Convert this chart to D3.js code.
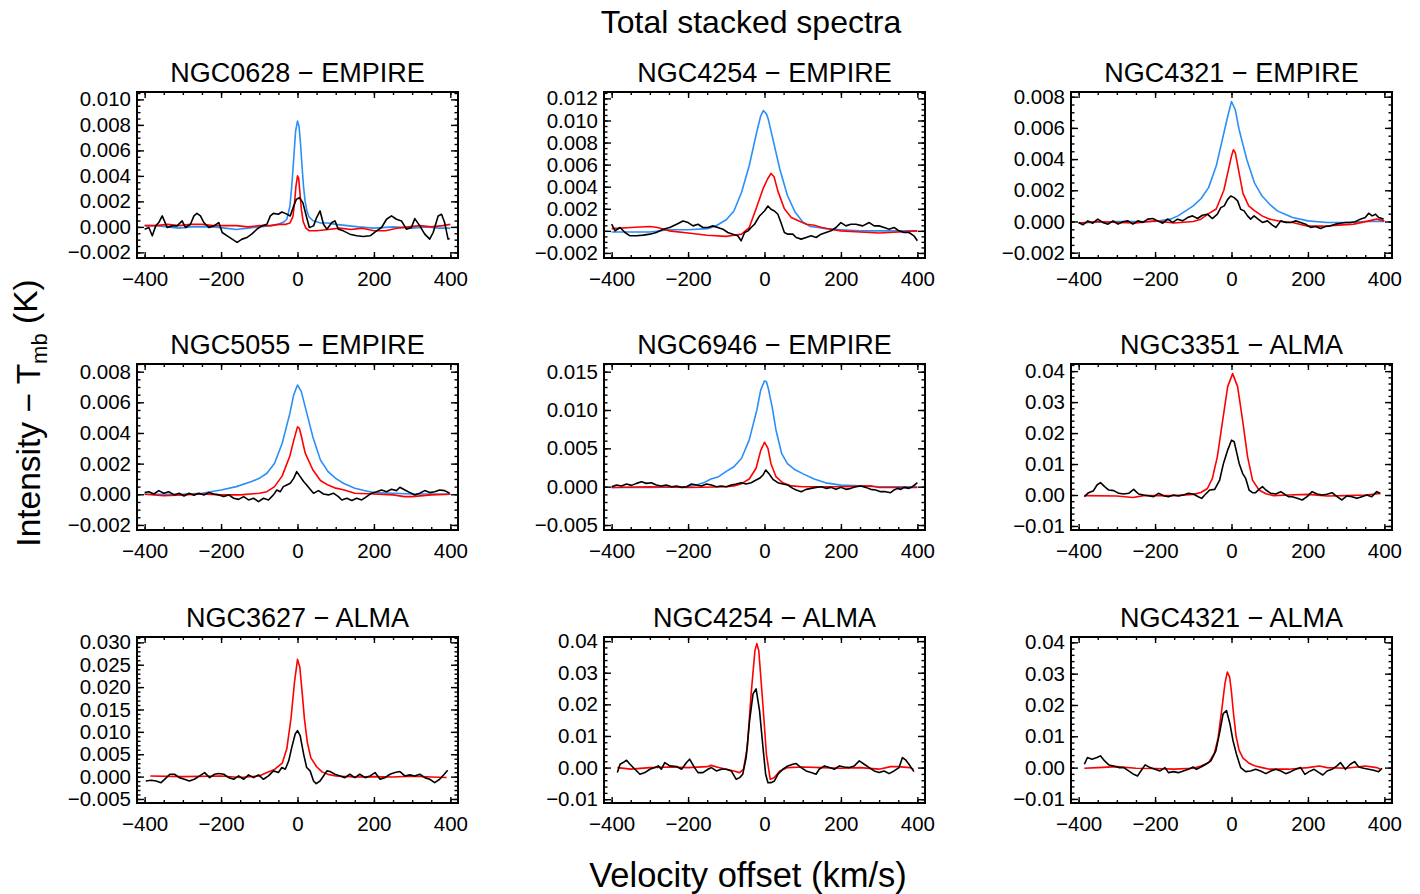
<!DOCTYPE html>
<html>
<head>
<meta charset="utf-8">
<script src="https://cdn.jsdelivr.net/npm/d3@7"></script>
<style>
  body { margin: 0; background: #fff; }
  svg text { font-family: "Liberation Sans", Arial, Helvetica, sans-serif; fill: #000; }
</style>
</head>
<body>
<div id="chart"></div>
<script>
// panel titles, in reading order
const panelTitles = [
    "NGC0628 − EMPIRE", "NGC4254 − EMPIRE", "NGC4321 − EMPIRE",
    "NGC5055 − EMPIRE", "NGC6946 − EMPIRE", "NGC3351 − ALMA",
    "NGC3627 − ALMA", "NGC4254 − ALMA", "NGC4321 − ALMA"
];

// x axis (velocity offset, km/s)
const velRange = [-420, 420];
const velTicks = [-400, -200, 0, 200, 400];

// y axis ranges and tick labels per panel
const yRanges = [
    [-0.00244, 0.01058], [-0.00246, 0.01258], [-0.00234, 0.0083],
    [-0.00233, 0.0085], [-0.00565, 0.016], [-0.0113, 0.0423],
    [-0.0059, 0.0312], [-0.0112, 0.0413], [-0.0113, 0.0417]
];
const yTicks = [
    [-0.002, 0, 0.002, 0.004, 0.006, 0.008, 0.010],
    [-0.002, 0, 0.002, 0.004, 0.006, 0.008, 0.010, 0.012],
    [-0.002, 0, 0.002, 0.004, 0.006, 0.008],
    [-0.002, 0, 0.002, 0.004, 0.006, 0.008],
    [-0.005, 0, 0.005, 0.010, 0.015],
    [-0.01, 0, 0.01, 0.02, 0.03, 0.04],
    [-0.005, 0, 0.005, 0.010, 0.015, 0.020, 0.025, 0.030],
    [-0.01, 0, 0.01, 0.02, 0.03, 0.04],
    [-0.01, 0, 0.01, 0.02, 0.03, 0.04]
];
const yMinorSteps = [0.0005, 0.0005, 0.0005, 0.0005, 0.001, 0.002, 0.001, 0.002, 0.002];
const yFormats = [".3f", ".3f", ".3f", ".3f", ".3f", ".2f", ".3f", ".2f", ".2f"];

// spectra: [velocity, intensity (K)]
const ngc0628EmpireBlack = [[-400,-0.00018],[-389,-0.00005],[-380,-0.0007],[-371,0.00008],[-363,0.00034],[-354,0.00086],[-341,-0.00005],[-328,0.00008],[-315,0.00008],[-302,0.00047],[-293,-0.00005],[-280,0.00021],[-271,0.00086],[-263,0.00106],[-254,0.00086],[-245,0.00034],[-232,-0.00005],[-219,0.00008],[-206,0.00034],[-197,-0.00044],[-184,-0.0007],[-171,-0.00096],[-158,-0.00122],[-145,-0.00096],[-132,-0.00083],[-120,-0.00057],[-106,-0.00018],[-93,0.00008],[-80,0.00021],[-71,0.00086],[-63,0.00106],[-50,0.00099],[-41,0.00117],[-32,0.00106],[-19,0.00086],[-10,0.00164],[-3,0.00216],[5,0.00229],[14,0.0019],[23,0.00086],[31,-0.00005],[42,0.00008],[50,0.00073],[59,0.00125],[68,0.00021],[77,-0.00018],[90,0.00034],[98,0.00047],[107,-0.00018],[120,-0.00031],[137,-0.00057],[155,-0.0007],[172,-0.00075],[190,-0.0007],[207,-0.00031],[220,-0.00005],[233,0.0006],[246,0.00086],[259,0.0006],[272,0.00047],[285,-0.00018],[298,-0.00005],[307,0.00065],[320,0.00008],[333,-0.00057],[346,-0.00096],[355,-0.00044],[368,0.00086],[377,0.00099],[385,0.00034],[394,-0.00096],[398,-0.00091]];
const ngc0628EmpireRed = [[-400,0.0001],[-370,0.0001],[-340,0.0002],[-310,0.0001],[-280,0.0002],[-250,0.0002],[-220,0.0001],[-190,0.0001],[-160,0.0001],[-130,0],[-100,0.0001],[-70,0.0001],[-50,0.0002],[-30,0.0002],[-20,0.0003],[-12,0.0008],[-8,0.0018],[-4,0.0032],[0,0.004],[3,0.0038],[6,0.0028],[10,0.0014],[15,0.0004],[22,-0.0001],[30,-0.0003],[50,-0.0003],[80,-0.0002],[110,-0.0001],[140,-0.0002],[170,-0.0001],[200,-0.0003],[230,-0.0003],[260,-0.0001],[290,0],[320,0.0001],[350,0],[380,0.0001],[400,0.0002]];
const ngc0628EmpireBlue = [[-400,0.0001],[-370,0.0001],[-340,0],[-310,-0.0001],[-280,0],[-250,0],[-220,0],[-190,-0.0001],[-160,-0.0002],[-130,-0.0001],[-100,0],[-70,0.0001],[-50,0.0002],[-35,0.0004],[-28,0.0006],[-20,0.0016],[-15,0.0032],[-10,0.0053],[-5,0.0075],[0,0.0083],[4,0.0079],[8,0.0065],[12,0.0047],[16,0.0031],[20,0.002],[25,0.0012],[30,0.0008],[40,0.0005],[60,0.0003],[80,0.0003],[100,0.0002],[130,0.0001],[160,0],[200,-0.0001],[250,0],[300,-0.0001],[340,0],[370,-0.0001],[400,-0.0001]];

const ngc4254EmpireBlack = [[-400,0.0006],[-391,0],[-378,0.0003],[-365,-0.00015],[-352,-0.00045],[-335,-0.00045],[-317,-0.00039],[-300,-0.0003],[-283,-0.00015],[-265,0.00015],[-248,0.0003],[-230,0.0006],[-213,0.0009],[-200,0.00075],[-187,0.00045],[-174,0.0006],[-161,0.0003],[-148,0.0003],[-135,0.00045],[-122,0.0003],[-109,0.00015],[-96,-0.00015],[-83,-0.0003],[-70,-0.00045],[-61,-0.0009],[-52,-0.00015],[-43,0],[-35,0.0003],[-26,0.0006],[-13,0.00135],[0,0.0018],[9,0.00225],[17,0.00195],[26,0.0018],[35,0.0015],[43,0.00075],[52,-0.00015],[61,-0.0003],[74,-0.0003],[83,-0.0006],[96,-0.00075],[109,-0.0006],[122,-0.00045],[135,-0.0006],[148,-0.0003],[161,-0.00015],[174,0],[187,0.0003],[200,0.00075],[213,0.00045],[226,0.0006],[239,0.0006],[257,0.00045],[274,0.00075],[287,0.00045],[300,0.00045],[313,0.0003],[326,0.00015],[339,0.0003],[352,0],[365,-0.00015],[378,-0.00015],[391,-0.00045],[400,-0.0009]];
const ngc4254EmpireRed = [[-400,0.0002],[-350,0.0003],[-300,0.0004],[-280,0.0003],[-250,0],[-200,-0.0002],[-150,-0.0004],[-100,-0.0005],[-80,-0.0004],[-60,-0.0003],[-40,0.0003],[-22,0.002],[-4,0.0038],[8,0.0047],[17,0.0052],[25,0.0049],[35,0.0036],[52,0.002],[70,0.0012],[90,0.0009],[110,0.0006],[130,0.0005],[150,0.0003],[180,0.0001],[200,0],[250,-0.0001],[300,-0.0002],[350,-0.0001],[400,0]];
const ngc4254EmpireBlue = [[-400,-0.0001],[-350,-0.0001],[-300,-0.0001],[-250,0.0001],[-200,0.0001],[-150,0.0002],[-130,0.0004],[-110,0.0008],[-100,0.001],[-80,0.0018],[-60,0.0035],[-40,0.0059],[-20,0.009],[-10,0.0104],[-3,0.0109],[5,0.0106],[10,0.0101],[20,0.0086],[40,0.0056],[60,0.0032],[80,0.0017],[100,0.0008],[120,0.0004],[140,0.0003],[160,0.0002],[200,0.0001],[250,0],[300,0],[350,0],[400,0]];

const ngc4321EmpireBlack = [[-400,-0.00006],[-389,-0.00021],[-376,0.00004],[-363,-0.00011],[-350,0.00015],[-337,-0.00006],[-323,-0.00017],[-310,0.00004],[-297,-0.00017],[-284,-0.00002],[-271,0.00004],[-258,-0.00017],[-245,0.00004],[-232,-0.00006],[-219,0.00015],[-206,0.00019],[-193,0.00004],[-180,-0.00011],[-167,0.00015],[-154,-0.00006],[-141,0.00015],[-128,0.00004],[-115,0.00025],[-102,0.00036],[-89,0.00019],[-76,0.0004],[-63,0.00047],[-50,0.00019],[-37,0.00047],[-28,0.00089],[-19,0.001],[-10,0.00142],[-2,0.00163],[7,0.00153],[16,0.00132],[24,0.00079],[33,0.00068],[42,0.00036],[50,0.00015],[59,0.00036],[68,0.00019],[81,-0.00006],[94,0.00004],[107,-0.00023],[116,-0.00038],[129,0.00004],[142,-0.00006],[155,-0.00006],[168,0.00004],[181,-0.00006],[194,-0.00017],[207,-0.00038],[220,-0.00032],[233,-0.00045],[246,-0.00032],[259,-0.00028],[272,-0.00017],[285,-0.00011],[298,-0.00006],[311,-0.00006],[324,-0.00002],[337,0.00015],[350,0.00025],[359,0.00053],[368,0.00036],[377,0.00047],[385,0.00025],[394,0.00019],[398,0.00015]];
const ngc4321EmpireRed = [[-400,-0.0001],[-350,0],[-300,-0.00006],[-250,-0.0001],[-200,0.00004],[-150,-0.0001],[-100,0],[-80,0.00015],[-60,0.0005],[-40,0.0008],[-20,0.002],[-10,0.0031],[0,0.0042],[5,0.0046],[10,0.0044],[20,0.0031],[30,0.0018],[45,0.001],[60,0.0007],[80,0.00036],[100,0.00015],[130,0],[160,-0.00006],[200,-0.0003],[240,-0.0003],[280,-0.00023],[320,-0.00017],[360,0.00004],[380,0.00015],[400,0.00004]];
const ngc4321EmpireBlue = [[-400,-0.0001],[-300,0],[-200,0],[-160,0.00015],[-140,0.00036],[-120,0.00068],[-100,0.001],[-80,0.00146],[-60,0.00217],[-40,0.00355],[-20,0.00567],[-10,0.00673],[0,0.00769],[10,0.00716],[20,0.00588],[40,0.00397],[60,0.00248],[80,0.00163],[100,0.0011],[120,0.00068],[140,0.00047],[160,0.00025],[200,0.00004],[250,-0.00006],[300,-0.00006],[350,0],[400,0]];

const ngc5055EmpireBlack = [[-400,0.00011],[-389,0.00017],[-376,0.00002],[-363,0.00024],[-350,0.00007],[-337,0.00017],[-323,-0.00004],[-310,0.00007],[-297,-0.00011],[-284,0.00007],[-271,-0.00007],[-258,0.00007],[-245,-0.00004],[-232,0.00011],[-219,0.00002],[-206,-0.00004],[-193,-0.00015],[-180,-0.00004],[-167,-0.00026],[-154,-0.00033],[-141,-0.00015],[-128,-0.00037],[-115,-0.00026],[-102,-0.00048],[-89,-0.00026],[-76,-0.00037],[-63,-0.00004],[-54,0.00028],[-45,0.00017],[-37,0.0005],[-28,0.00061],[-19,0.00072],[-10,0.00104],[-2,0.00148],[7,0.00115],[16,0.00083],[24,0.00061],[33,0.00033],[42,0.00007],[55,0.00024],[68,0.00002],[81,-0.00004],[94,0.00007],[107,-0.00015],[116,-0.00037],[129,-0.00026],[142,-0.00041],[155,-0.00026],[168,-0.00037],[181,-0.00015],[194,0.00007],[207,0.00017],[220,0.00028],[233,0.00017],[246,0.00033],[259,0.00024],[268,0.00046],[281,0.00028],[294,0.00011],[307,-0.00004],[320,0.00007],[333,0.00024],[346,0.00011],[359,0.00017],[372,0.00028],[385,0.00024],[398,0.00007]];
const ngc5055EmpireRed = [[-400,0],[-350,-0.0001],[-300,-0.00004],[-250,0.00002],[-200,-0.00004],[-150,-0.00004],[-100,0.00007],[-80,0.00017],[-60,0.0005],[-40,0.0012],[-20,0.0025],[-10,0.0035],[0,0.0044],[5,0.0043],[10,0.0038],[20,0.0027],[40,0.0016],[60,0.0009],[80,0.0006],[100,0.0004],[120,0.0003],[150,0.00007],[200,0.00002],[250,-0.00004],[280,-0.00015],[300,-0.00015],[350,-0.00004],[400,0]];
const ngc5055EmpireBlue = [[-400,0],[-300,0],[-250,0.00007],[-200,0.00028],[-160,0.0005],[-120,0.00083],[-100,0.00104],[-80,0.00137],[-60,0.00202],[-40,0.00333],[-20,0.00528],[-10,0.00648],[0,0.00713],[10,0.0067],[20,0.00572],[40,0.00376],[60,0.00224],[80,0.00148],[100,0.00104],[120,0.00072],[150,0.00039],[180,0.00022],[200,0.00011],[250,0.00007],[300,0.00002],[350,0.00002],[400,0]];

const ngc6946EmpireBlack = [[-400,0],[-387,0.00022],[-374,0.00009],[-361,0.00035],[-348,0.00017],[-335,0.00043],[-322,0.00065],[-309,0.00043],[-296,0.00052],[-283,0.00022],[-270,0.00009],[-257,0.00022],[-243,0],[-230,0.00009],[-217,-0.00009],[-204,0],[-191,0.00035],[-178,0.00022],[-165,0.00009],[-152,0.00035],[-139,0.00022],[-126,0],[-113,0.00009],[-100,0],[-87,0.00022],[-74,0.00035],[-61,0.00052],[-48,0.00035],[-35,0.00052],[-22,0.00087],[-13,0.00109],[-4,0.00152],[3,0.00217],[11,0.00174],[22,0.00096],[35,0.00052],[48,0.00035],[61,0.00022],[74,-0.00022],[83,-0.00043],[96,-0.00065],[109,-0.00035],[122,-0.00022],[135,-0.00009],[148,0],[161,-0.00022],[174,-0.00009],[187,-0.00035],[200,-0.00009],[213,-0.00035],[226,-0.00022],[239,0],[252,0.00009],[265,-0.00009],[278,-0.00035],[291,-0.00043],[304,-0.00065],[317,-0.00065],[330,-0.00078],[339,-0.00043],[348,-0.00022],[357,-0.00035],[365,-0.00009],[378,-0.00022],[387,0],[396,0.00035],[400,0.00052]];
const ngc6946EmpireRed = [[-400,-0.0001],[-300,0],[-200,-0.0001],[-100,0],[-80,0.0001],[-60,0.0004],[-40,0.001],[-22,0.0024],[-10,0.0047],[0,0.0058],[9,0.005],[17,0.003],[30,0.0013],[48,0.0005],[70,0.0001],[100,0],[200,0],[280,0.0001],[300,-0.0001],[400,-0.0001]];
const ngc6946EmpireBlue = [[-400,-0.0001],[-300,-0.0001],[-200,0],[-180,0.0002],[-160,0.0005],[-140,0.001],[-120,0.0013],[-100,0.002],[-80,0.0026],[-60,0.0037],[-40,0.0061],[-20,0.01],[-10,0.0126],[0,0.0138],[5,0.0137],[10,0.0128],[20,0.0104],[30,0.0074],[45,0.0043],[60,0.003],[80,0.0022],[100,0.0017],[130,0.001],[160,0.0005],[200,0.0002],[250,0.0001],[300,0],[400,0]];

const ngc3351AlmaBlack = [[-385,-0.00054],[-374,0.00075],[-361,0.0014],[-352,0.00323],[-343,0.00398],[-332,0.00269],[-321,0.00161],[-308,0.0014],[-295,0.00054],[-282,0.00032],[-269,0.00054],[-256,0.00183],[-243,0.00032],[-230,0],[-217,-0.00022],[-204,-0.00054],[-191,0.00054],[-178,-0.00022],[-165,-0.00054],[-152,0],[-139,-0.00032],[-126,0],[-113,0.00054],[-100,0.00032],[-87,-0.00054],[-78,-0.00108],[-70,0],[-57,0.00161],[-44,0.00183],[-31,0.00484],[-21,0.0102],[-10,0.0145],[0,0.0177],[7,0.0172],[13,0.014],[20,0.0102],[29,0.00699],[37,0.00538],[46,0.00161],[55,0.00075],[63,0.00075],[72,0.00183],[81,0.00269],[90,0.00161],[103,0.00054],[116,0.00032],[129,0.00108],[142,0],[150,-0.00054],[159,-0.00054],[172,-0.00108],[185,-0.00161],[198,-0.00054],[211,0.00108],[224,0.00032],[237,0],[250,0.00022],[263,0.00075],[276,-0.00054],[289,-0.00161],[302,-0.00032],[315,-0.00054],[328,-0.00108],[341,-0.00054],[354,0],[367,-0.00054],[380,0.00108],[389,0.00054]];
const ngc3351AlmaRed = [[-385,-0.0002],[-300,-0.0003],[-258,-0.0008],[-230,-0.0002],[-200,-0.0002],[-150,-0.0002],[-100,0.0002],[-80,0.0008],[-63,0.0021],[-50,0.0054],[-37,0.0124],[-23,0.0242],[-10,0.035],[3,0.0392],[16,0.035],[29,0.0242],[42,0.0124],[55,0.0048],[72,0.0016],[90,0.0004],[110,-0.0002],[150,0],[200,0.0002],[250,-0.0003],[300,-0.0002],[350,0],[390,0.0005]];

const ngc3627AlmaBlack = [[-397,-0.00098],[-383,-0.00083],[-370,-0.00098],[-357,-0.00135],[-343,-0.00023],[-334,0.00053],[-322,0.00053],[-309,-0.00023],[-296,-0.0006],[-283,-0.00098],[-270,-0.0006],[-256,0.00015],[-243,0.0009],[-230,-0.00023],[-217,0.00053],[-206,0.00068],[-193,0.00053],[-180,-0.00023],[-167,-0.0006],[-154,0.00015],[-141,-0.0006],[-128,0.00038],[-115,-0.00023],[-102,0.00038],[-89,-0.0006],[-76,0.00015],[-63,0.00128],[-50,0.0009],[-41,0.00203],[-32,0.00165],[-23,0.00353],[-15,0.00653],[-6,0.00953],[0,0.01028],[7,0.00915],[16,0.00503],[24,0.00203],[33,0.00128],[42,-0.00098],[49,-0.00158],[59,-0.00098],[68,0.00015],[77,0.00128],[85,0.00113],[98,0.00053],[111,0.00015],[124,-0.00023],[137,0.00053],[150,-0.00023],[163,0.00053],[177,-0.00023],[190,0.00015],[203,0.0009],[216,-0.0006],[229,-0.00023],[242,0.00053],[255,0.0009],[268,0.00113],[281,0.00015],[294,0.00038],[307,0.00015],[320,0.00053],[333,-0.00023],[346,-0.0006],[359,-0.00135],[372,-0.0006],[384,0.00053],[393,0.00143]];
const ngc3627AlmaRed = [[-385,0.00015],[-300,0],[-200,0.00015],[-150,-0.0002],[-100,0.00015],[-80,0.0009],[-60,0.0016],[-40,0.003],[-28,0.0062],[-17,0.013],[-8,0.021],[0,0.0262],[6,0.0245],[12,0.019],[18,0.013],[26,0.0075],[35,0.0042],[50,0.0022],[65,0.001],[80,0.0005],[100,0.00015],[150,-0.0001],[200,0],[250,-0.0001],[300,0.0001],[350,-0.0001],[390,-0.0002]];

const ngc4254AlmaBlack = [[-385,-0.00159],[-378,0.00106],[-370,0.00159],[-361,0.00233],[-352,0.00106],[-339,-0.00053],[-326,-0.00212],[-313,-0.00159],[-300,-0.00053],[-287,0],[-278,0.00053],[-270,-0.00053],[-261,0.00159],[-248,0.00053],[-230,0.00032],[-217,-0.00053],[-204,0.00159],[-196,0.00265],[-183,0],[-174,-0.00159],[-161,-0.00159],[-148,-0.00053],[-139,0],[-126,-0.00106],[-113,-0.00053],[-100,-0.00053],[-87,-0.00106],[-74,-0.00371],[-65,-0.00318],[-57,-0.00212],[-48,0.00318],[-39,0.01485],[-30,0.0233],[-22,0.0249],[-13,0.018],[-4,0.00637],[3,-0.00212],[9,-0.00477],[17,-0.00477],[26,-0.00424],[35,-0.00212],[48,-0.00053],[61,0.00053],[74,0.00106],[83,0.00127],[96,0],[109,-0.00106],[122,-0.00159],[135,-0.00212],[143,-0.00053],[157,0.00053],[170,0],[183,-0.00053],[196,0.00053],[209,0.00021],[222,0],[235,0.00053],[248,0.00212],[261,0.00106],[274,0],[287,-0.00106],[300,-0.00159],[313,-0.00106],[326,-0.00191],[339,-0.00106],[352,0],[361,0.00318],[370,0.00233],[378,0.00106],[391,-0.00127]];
const ngc4254AlmaRed = [[-385,0],[-350,-0.0005],[-300,0],[-250,0.0002],[-200,0],[-150,0.0003],[-140,0.0007],[-120,0],[-100,-0.0005],[-80,-0.0011],[-65,-0.0016],[-55,-0.0005],[-45,0.0064],[-35,0.0233],[-25,0.037],[-20,0.0392],[-15,0.037],[-5,0.0212],[5,0.0042],[15,-0.0037],[25,-0.0032],[40,-0.0011],[60,0],[100,0.0002],[150,0],[200,-0.0002],[250,0],[300,-0.0005],[330,0.0003],[350,0.0003],[380,0],[390,-0.0005]];

const ngc4321AlmaBlack = [[-385,0.00107],[-377,0.00322],[-365,0.00268],[-352,0.00322],[-343,0.00375],[-332,0.00214],[-321,0.00086],[-308,0.00054],[-295,0],[-282,0],[-269,-0.00107],[-256,-0.00214],[-246,-0.00268],[-234,-0.00054],[-226,0.00086],[-213,0],[-200,-0.00054],[-187,-0.00107],[-174,0],[-165,-0.00161],[-152,-0.00129],[-139,-0.00161],[-126,-0.00107],[-113,-0.00054],[-100,0.00021],[-92,-0.00054],[-80,0.00021],[-67,0.00107],[-54,0.00214],[-41,0.00536],[-30,0.0118],[-22,0.0172],[-13,0.0182],[-4,0.0139],[4,0.00858],[13,0.00429],[24,0],[37,-0.00129],[50,-0.00107],[63,-0.00054],[76,-0.00107],[90,-0.00193],[103,-0.00107],[116,-0.00054],[129,-0.00107],[142,-0.00193],[155,-0.00129],[168,-0.00054],[181,0],[192,-0.00214],[203,-0.00129],[216,-0.00054],[229,-0.00161],[239,-0.00236],[250,-0.00107],[263,-0.00054],[276,0.00054],[285,0.00161],[298,-0.00054],[311,0.00107],[322,0.00193],[333,0.00021],[346,-0.00021],[359,-0.00054],[372,-0.00086],[385,-0.00129],[394,-0.00021]];
const ngc4321AlmaRed = [[-385,-0.0002],[-350,0],[-300,0.0003],[-250,-0.0002],[-200,-0.0003],[-150,-0.0005],[-100,-0.0002],[-80,0.0005],[-60,0.0016],[-45,0.0045],[-35,0.0095],[-25,0.019],[-17,0.027],[-11,0.0305],[-5,0.029],[0,0.024],[5,0.0175],[12,0.01],[20,0.0055],[30,0.003],[45,0.0015],[60,0.0006],[80,0],[100,-0.0005],[150,-0.0005],[200,0],[230,0.0005],[250,0],[300,-0.0002],[350,0.0005],[380,0],[390,-0.0005]];

// series per panel: blue drawn first, black on top
const panelSeries = [
    { blue: ngc0628EmpireBlue, red: ngc0628EmpireRed, black: ngc0628EmpireBlack },
    { blue: ngc4254EmpireBlue, red: ngc4254EmpireRed, black: ngc4254EmpireBlack },
    { blue: ngc4321EmpireBlue, red: ngc4321EmpireRed, black: ngc4321EmpireBlack },
    { blue: ngc5055EmpireBlue, red: ngc5055EmpireRed, black: ngc5055EmpireBlack },
    { blue: ngc6946EmpireBlue, red: ngc6946EmpireRed, black: ngc6946EmpireBlack },
    { red: ngc3351AlmaRed, black: ngc3351AlmaBlack },
    { red: ngc3627AlmaRed, black: ngc3627AlmaBlack },
    { red: ngc4254AlmaRed, black: ngc4254AlmaBlack },
    { red: ngc4321AlmaRed, black: ngc4321AlmaBlack }
];

// layout
const width = 1420, height = 894;
const colLeft = [137, 604, 1071];
const rowTop = [92, 364, 637];
const plotW = 321, plotH = 166;
const lineColors = { blue: "#2a8ff7", red: "#ff0000", black: "#000000" };

const svg = d3.select("#chart")
    .append("svg")
    .attr("width", width)
    .attr("height", height)
    .style("display", "block");

// strip d3's default axis styling so the CSS font applies
function cleanAxis(a, fontSize) {
    a.select(".domain").remove();
    a.attr("font-family", null).attr("font-size", null);
    a.selectAll("line").attr("stroke", "#000").attr("stroke-width", 1.4);
    a.selectAll("text").style("font-size", fontSize + "px");
}

panelSeries.forEach((series, i) => {
    const col = i % 3, row = Math.floor(i / 3);
    const g = svg.append("g")
        .attr("transform", `translate(${colLeft[col]}, ${rowTop[row]})`);

    const x = d3.scaleLinear().domain(velRange).range([0, plotW]);
    const y = d3.scaleLinear().domain(yRanges[i]).range([plotH, 0]);

    const line = d3.line()
        .x(d => x(d[0]))
        .y(d => y(d[1]));

    ["blue", "red", "black"].forEach(key => {
        if (!series[key]) return;
        g.append("path")
            .datum(series[key])
            .attr("d", line)
            .attr("fill", "none")
            .attr("stroke", lineColors[key])
            .attr("stroke-width", 1.6)
            .attr("stroke-linejoin", "round");
    });

    // minor ticks
    const xMinor = d3.range(-400, 401, 50);
    const step = yMinorSteps[i];
    const yMinor = d3.range(Math.ceil(yRanges[i][0] / step), Math.floor(yRanges[i][1] / step) + 1)
        .map(k => k * step);

    g.append("g").attr("transform", `translate(0, ${plotH})`)
        .call(d3.axisBottom(x).tickValues(xMinor).tickSizeInner(-3).tickSizeOuter(0).tickFormat(""))
        .call(a => cleanAxis(a, 20));
    g.append("g")
        .call(d3.axisTop(x).tickValues(xMinor).tickSizeInner(-3).tickSizeOuter(0).tickFormat(""))
        .call(a => cleanAxis(a, 20));
    g.append("g")
        .call(d3.axisLeft(y).tickValues(yMinor).tickSizeInner(-3.5).tickSizeOuter(0).tickFormat(""))
        .call(a => cleanAxis(a, 20));
    g.append("g").attr("transform", `translate(${plotW}, 0)`)
        .call(d3.axisRight(y).tickValues(yMinor).tickSizeInner(-3.5).tickSizeOuter(0).tickFormat(""))
        .call(a => cleanAxis(a, 20));

    // major ticks with labels on bottom and left
    g.append("g").attr("transform", `translate(0, ${plotH})`)
        .call(d3.axisBottom(x).tickValues(velTicks).tickSizeInner(-6).tickSizeOuter(0)
            .tickPadding(13).tickFormat(d3.format("d")))
        .call(a => cleanAxis(a, 20.5));
    g.append("g")
        .call(d3.axisTop(x).tickValues(velTicks).tickSizeInner(-6).tickSizeOuter(0).tickFormat(""))
        .call(a => cleanAxis(a, 20));
    g.append("g")
        .call(d3.axisLeft(y).tickValues(yTicks[i]).tickSizeInner(-7).tickSizeOuter(0)
            .tickPadding(6).tickFormat(d3.format(yFormats[i])))
        .call(a => cleanAxis(a, 20.5));
    g.append("g").attr("transform", `translate(${plotW}, 0)`)
        .call(d3.axisRight(y).tickValues(yTicks[i]).tickSizeInner(-7).tickSizeOuter(0).tickFormat(""))
        .call(a => cleanAxis(a, 20));

    // frame
    g.append("rect")
        .attr("width", plotW)
        .attr("height", plotH)
        .attr("fill", "none")
        .attr("stroke", "#000")
        .attr("stroke-width", 2);

    // panel title
    g.append("text")
        .attr("x", plotW / 2)
        .attr("y", -10)
        .attr("text-anchor", "middle")
        .style("font-size", "27px")
        .text(panelTitles[i]);
});

// figure title and axis labels
svg.append("text")
    .attr("x", 751)
    .attr("y", 33)
    .attr("text-anchor", "middle")
    .style("font-size", "32px")
    .text("Total stacked spectra");

svg.append("text")
    .attr("x", 748)
    .attr("y", 887)
    .attr("text-anchor", "middle")
    .style("font-size", "34.5px")
    .text("Velocity offset (km/s)");

const yLabel = svg.append("text")
    .attr("transform", "translate(40, 413) rotate(-90)")
    .attr("text-anchor", "middle")
    .style("font-size", "33.5px");
yLabel.append("tspan").text("Intensity − T");
yLabel.append("tspan").attr("dy", "0.3em").style("font-size", "22px").text("mb");
yLabel.append("tspan").attr("dy", "-0.3em").text(" (K)");
</script>
</body>
</html>
